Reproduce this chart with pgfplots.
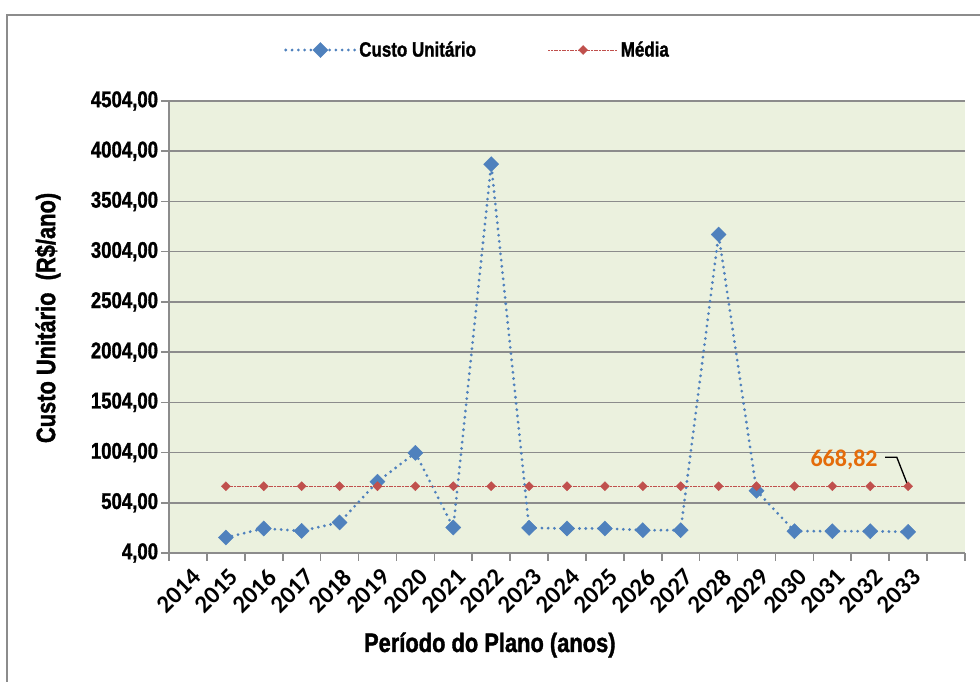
\documentclass[border=0pt]{standalone}
\usepackage{pgfplots}
\pgfplotsset{compat=1.18}
\usepackage{fontspec}
\setmainfont{Liberation Sans}
\newfontfamily\narrow[FakeStretch=0.82, FakeBold=1.3]{Liberation Sans}
\newfontfamily\calib{Carlito}
\definecolor{bluep}{HTML}{4F81BD}
\definecolor{redp}{HTML}{C0504D}
\definecolor{bgc}{HTML}{EBF1DE}
\definecolor{gridc}{HTML}{8C8C8C}
\definecolor{orangec}{HTML}{E46C0A}
\begin{document}
\begin{tikzpicture}
\useasboundingbox (0,0) rectangle (735pt,510.75pt);
\draw[gridc, line width=1.5pt] (5.25pt,-1pt) -- (5.25pt,499.5pt) -- (736pt,499.5pt);
\begin{axis}[
  at={(126.75pt,96pt)}, anchor=south west,
  scale only axis, width=597pt, height=339pt,
  xmin=-0.5, xmax=20.5, ymin=4, ymax=4504,
  axis lines=left, axis line style={-, gridc, line width=1.5pt},
  axis background/.style={fill=bgc},
  xtick={0,...,19},
  xticklabels={2014,2015,2016,2017,2018,2019,2020,2021,2022,2023,2024,2025,2026,2027,2028,2029,2030,2031,2032,2033},
  major x tick style={draw=none},
  minor xtick={-0.5,0.5,...,20.5},
  minor tick length=6pt,
  major tick length=6pt,
  tick align=outside,
  tick style={gridc, line width=1.2pt},
  ytick={4,504,...,4504},
  yticklabels={{4,00},{504,00},{1004,00},{1504,00},{2004,00},{2504,00},{3004,00},{3504,00},{4004,00},{4504,00}},
  ymajorgrids,
  major grid style={gridc, line width=1.1pt},
  yticklabel style={font=\narrow\bfseries\fontsize{17}{17}\selectfont, inner sep=2pt},
  xticklabel style={rotate=45, anchor=east, inner sep=0pt, yshift=-11pt, xshift=-2pt, font=\calib\bfseries\fontsize{18.5}{18.5}\selectfont},
  xlabel={Período do Plano (anos)},
  xlabel style={at={(axis description cs:0.403,-0.2035)}, anchor=center, font=\narrow\bfseries\fontsize{20}{20}\selectfont},
  ylabel={Custo Unitário\ \ (R\$/ano)},
  ylabel style={at={(axis description cs:-0.152,0.52)}, anchor=center, font=\narrow\bfseries\fontsize{20}{20}\selectfont},
  legend columns=2,
  legend style={at={(0.1394,1.1128)}, anchor=west, draw=none, fill=none,
    font=\narrow\bfseries\fontsize{15.5}{15.5}\selectfont,
    /tikz/every even column/.append style={column sep=52pt}},
  legend image code/.code={\draw[#1, mark repeat=2, mark phase=2] plot coordinates {(0pt,0pt) (26pt,0pt) (52pt,0pt)};},
]
\addplot[bluep, line width=2.3pt, line cap=round, dash pattern=on 0pt off 4.7pt,
  mark=square*, mark size=4pt, mark options={solid, rotate=45, fill=bluep, draw=bluep, line width=0.3pt}]
coordinates {
(1,158) (2,248) (3,224) (4,308) (5,714) (6,1001) (7,258) (8,3875) (9,254) (10,248)
(11,248) (12,231) (13,231) (14,3175) (15,624) (16,221) (17,221) (18,221) (19,214)
};
\addlegendentry{Custo Unitário}
\addplot[redp, line width=0.6pt, dash pattern=on 1.5pt off 0.5pt,
  mark=square*, mark size=2.4pt, mark options={solid, rotate=45, fill=redp, draw=redp, line width=0.3pt}]
coordinates {
(1,668.82) (2,668.82) (3,668.82) (4,668.82) (5,668.82) (6,668.82) (7,668.82) (8,668.82) (9,668.82) (10,668.82)
(11,668.82) (12,668.82) (13,668.82) (14,668.82) (15,668.82) (16,668.82) (17,668.82) (18,668.82) (19,668.82)
};
\addlegendentry{Média}
\draw[black, line width=1pt] (axis cs:18.39,958) -- (axis cs:18.70,958) -- (axis cs:19,668.82);
\node[anchor=east, text=orangec, font=\calib\bfseries\fontsize{18}{18}\selectfont, inner sep=0pt] at (axis cs:18.2,935) {668,82};
\end{axis}
\end{tikzpicture}
\end{document}
